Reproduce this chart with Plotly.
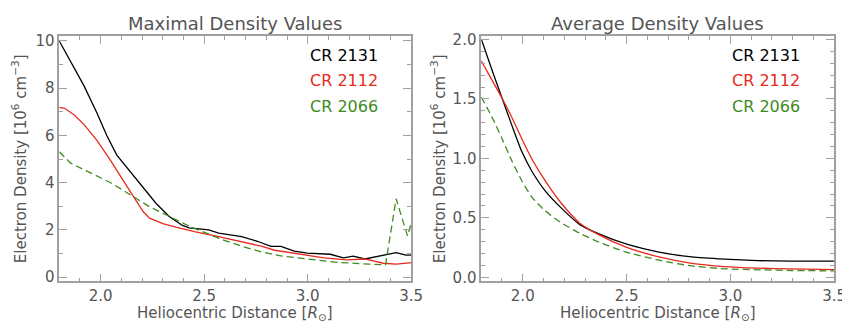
import plotly.graph_objects as go

# ---- Left panel: Maximal density values (10^6 cm^-3) ----
max_x_2131 = [1.80, 1.855, 1.919, 1.982, 2.03, 2.078, 2.141, 2.205, 2.268, 2.331, 2.395, 2.427, 2.522,
              2.57, 2.681, 2.76, 2.823, 2.871, 2.935, 2.998, 3.109, 3.173, 3.22, 3.276, 3.366, 3.427,
              3.475, 3.50]
max_y_2131 = [10.0, 9.14, 8.11, 6.95, 5.99, 5.17, 4.49, 3.80, 3.12, 2.57, 2.19, 2.09, 2.0,
              1.86, 1.72, 1.51, 1.30, 1.30, 1.10, 1.02, 0.97, 0.82, 0.89, 0.77, 0.93, 1.04,
              0.93, 0.93]

max_x_2112 = [1.80, 1.824, 1.871, 1.919, 1.982, 2.046, 2.11, 2.157, 2.205, 2.236, 2.30, 2.363, 2.458,
              2.57, 2.681, 2.776, 2.84, 2.919, 2.998, 3.078, 3.189, 3.276, 3.366, 3.427, 3.506]
max_y_2112 = [7.18, 7.16, 6.88, 6.47, 5.79, 4.97, 4.08, 3.46, 2.78, 2.50, 2.27, 2.12, 1.92,
              1.72, 1.51, 1.31, 1.14, 1.03, 0.93, 0.82, 0.73, 0.77, 0.59, 0.55, 0.62]

max_x_2066 = [1.80, 1.855, 1.919, 1.982, 2.046, 2.11, 2.173, 2.236, 2.30, 2.363, 2.427, 2.522, 2.60,
              2.681, 2.776, 2.871, 2.983, 3.14, 3.30, 3.376, 3.427, 3.482, 3.506]
max_y_2066 = [5.31, 4.83, 4.55, 4.28, 4.01, 3.67, 3.32, 2.98, 2.71, 2.42, 2.16, 1.82, 1.55,
              1.31, 1.07, 0.90, 0.80, 0.63, 0.55, 0.52, 3.32, 1.75, 2.45]

# ---- Right panel: Average density values (10^6 cm^-3) ----
avg_x = [1.80, 1.854, 1.901, 1.949, 1.996, 2.044, 2.107, 2.18, 2.275, 2.37, 2.497, 2.656, 2.814,
         2.973, 3.131, 3.29, 3.50]
avg_y_2131 = [2.005, 1.733, 1.503, 1.271, 1.055, 0.892, 0.729, 0.592, 0.443, 0.362, 0.28, 0.212,
              0.171, 0.152, 0.14, 0.136, 0.136]
avg_y_2112 = [1.82, 1.652, 1.503, 1.34, 1.163, 0.995, 0.815, 0.635, 0.455, 0.354, 0.253, 0.171,
              0.117, 0.09, 0.077, 0.07, 0.065]
avg_y_2066 = [1.516, 1.34, 1.163, 0.973, 0.81, 0.674, 0.56, 0.465, 0.37, 0.293, 0.212, 0.144,
              0.095, 0.071, 0.063, 0.057, 0.054]

labels = ["CR 2131", "CR 2112", "CR 2066"]
colors = ["#000000", "#e8291c", "#3f8a1f"]
dashes = ["solid", "solid", "7px,4px"]

FONT = "DejaVu Sans"
GRAY = "#555555"
AX = "#a0a0a0"

fig = go.Figure()

left = [(max_x_2131, max_y_2131), (max_x_2112, max_y_2112), (max_x_2066, max_y_2066)]
right = [(avg_x, avg_y_2131), (avg_x, avg_y_2112), (avg_x, avg_y_2066)]

for (x, y), c, d, n in zip(left, colors, dashes, labels):
    fig.add_trace(go.Scatter(x=x, y=y, mode="lines", name=n, xaxis="x", yaxis="y",
                             line=dict(color=c, width=1.3, dash=d)))
for (x, y), c, d, n in zip(right, colors, dashes, labels):
    fig.add_trace(go.Scatter(x=x, y=y, mode="lines", name=n, xaxis="x2", yaxis="y2",
                             line=dict(color=c, width=1.3, dash=d, shape="spline", smoothing=0.6)))

common = dict(showline=True, linecolor=AX, linewidth=1.5, mirror="allticks",
              ticks="inside", ticklen=8, tickwidth=1, tickcolor=AX,
              showgrid=False, zeroline=False,
              tickfont=dict(family=FONT, size=15, color=GRAY))
minor_x = dict(dtick=0.1, ticks="inside", ticklen=4, tickcolor=AX, showgrid=False)

y_dom = [46 / 323, 299 / 323]

fig.update_layout(
    width=850, height=323,
    margin=dict(l=0, r=0, t=0, b=0),
    paper_bgcolor="white", plot_bgcolor="white",
    showlegend=False,
    xaxis=dict(domain=[52 / 850, 409 / 850], range=[1.8, 3.5], tick0=0, dtick=0.5,
               tickformat=".1f", minor=minor_x, anchor="y", **common),
    yaxis=dict(domain=y_dom, range=[-0.18, 10.2], tick0=0, dtick=2,
               minor=dict(dtick=1, ticks="inside", ticklen=4, tickcolor=AX, showgrid=False),
               anchor="x", **common),
    xaxis2=dict(domain=[480 / 850, 838 / 850], range=[1.8, 3.5], tick0=0, dtick=0.5,
                tickformat=".1f", minor=minor_x, anchor="y2", **common),
    yaxis2=dict(domain=y_dom, range=[-0.035, 2.027], tick0=0, dtick=0.5, tickformat=".1f",
                minor=dict(dtick=0.1, ticks="inside", ticklen=4, tickcolor=AX, showgrid=False),
                anchor="x2", **common),
)

ann = []
# titles
for cx, t in [(230.5, "Maximal Density Values"), (659, "Average Density Values")]:
    ann.append(dict(x=cx / 850, y=1 - 11 / 323, xref="paper", yref="paper", text=t,
                    showarrow=False, xanchor="center", yanchor="middle",
                    font=dict(family=FONT, size=18, color=GRAY)))
# x titles
for cx in [230.5, 659]:
    ann.append(dict(x=cx / 850, y=1 - 310 / 323, xref="paper", yref="paper",
                    text="Heliocentric Distance [<i>R</i><sub>⊙</sub>]",
                    showarrow=False, xanchor="center", yanchor="middle",
                    font=dict(family=FONT, size=15, color=GRAY)))
# y titles
for cx in [12, 437]:
    ann.append(dict(x=cx / 850, y=1 - 150 / 323, xref="paper", yref="paper",
                    text="Electron Density [10<sup>6</sup> cm<sup>−3</sup>]",
                    showarrow=False, textangle=-90, xanchor="center", yanchor="middle",
                    font=dict(family=FONT, size=15, color=GRAY)))
# legend texts
for lx in [304, 732]:
    for i, (n, c) in enumerate(zip(labels, colors)):
        ann.append(dict(x=lx / 850, y=1 - (44 + 26 * i) / 323, xref="paper", yref="paper",
                        text=n, showarrow=False, xanchor="left", yanchor="middle",
                        font=dict(family=FONT, size=16, color=c)))
fig.update_layout(annotations=ann)

fig.write_html("out.html")
